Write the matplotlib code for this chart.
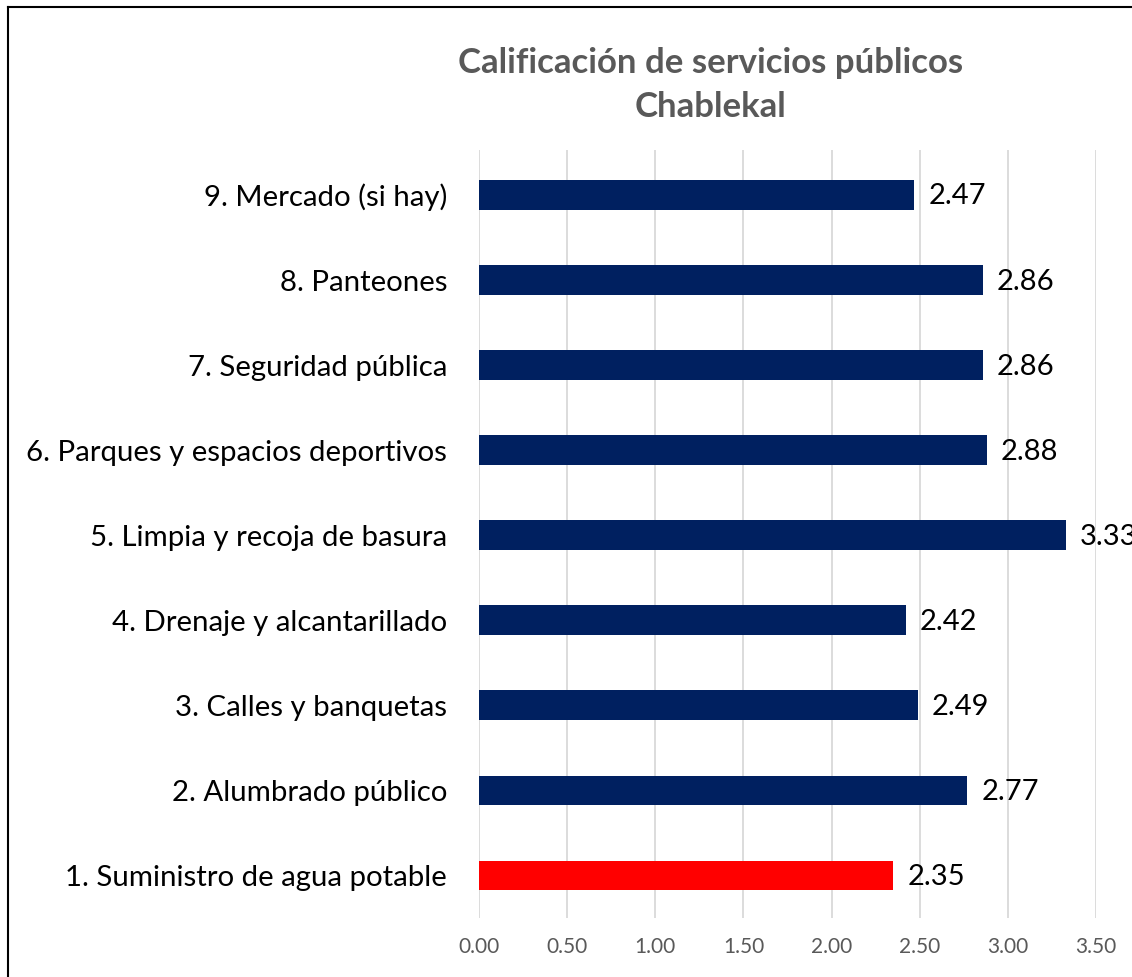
import numpy as np
import matplotlib.pyplot as plt
from matplotlib.lines import Line2D

plt.rcParams['font.family'] = ['Lato', 'DejaVu Sans']

## Datos
categorias = ['1. Suministro de agua potable', '2. Alumbrado público', '3. Calles y banquetas',
              '4. Drenaje y alcantarillado', '5. Limpia y recoja de basura',
              '6. Parques y espacios deportivos', '7. Seguridad pública', '8. Panteones',
              '9. Mercado (si hay)']
valores = [2.35, 2.77, 2.49, 2.42, 3.33, 2.88, 2.86, 2.86, 2.47]
colores = ['#FF0000'] + ['#002060'] * 8
ticks_x = [0, 0.5, 1, 1.5, 2, 2.5, 3, 3.5]

fig = plt.figure(figsize=(11.32, 9.77), dpi=100)
ax = fig.add_axes([479 / 1132, 59 / 977, 617 / 1132, 768 / 977])

y = np.arange(len(categorias))
ax.barh(y, valores, height=0.35, color=colores, zorder=3)

for yi, v in zip(y, valores):
    ax.annotate(f'{v:.2f}', (v, yi), xytext=(10, -1), textcoords='offset points',
                ha='left', va='center', fontsize=21, color='black', annotation_clip=False)

ax.set_xlim(0, 3.5)
ax.set_ylim(-0.5, 8.53)
ax.set_xticks(ticks_x)
ax.set_xticklabels([f'{t:.2f}' for t in ticks_x], fontsize=15, color='#595959')
ax.set_yticks(y)
ax.set_yticklabels(categorias, fontsize=21.2, color='black')
ax.tick_params(axis='x', length=0, pad=14)
ax.tick_params(axis='y', length=0, pad=23)
ax.grid(axis='x', color='#D9D9D9', linewidth=1.3, zorder=0)
for s in ax.spines.values():
    s.set_visible(False)

fig.text(711 / 1132, 1 - 63 / 977, 'Calificación de servicios públicos', ha='center', va='center',
         fontsize=25, fontweight='bold', color='#595959')
fig.text(711 / 1132, 1 - 107 / 977, 'Chablekal', ha='center', va='center',
         fontsize=25, fontweight='bold', color='#595959')

# borde del gráfico
fig.add_artist(Line2D([8 / 1132, 8 / 1132], [0, 1 - 7 / 977], color='black', linewidth=1.5))
fig.add_artist(Line2D([8 / 1132, 1], [1 - 7 / 977, 1 - 7 / 977], color='black', linewidth=1.5))

plt.savefig('out.png')
